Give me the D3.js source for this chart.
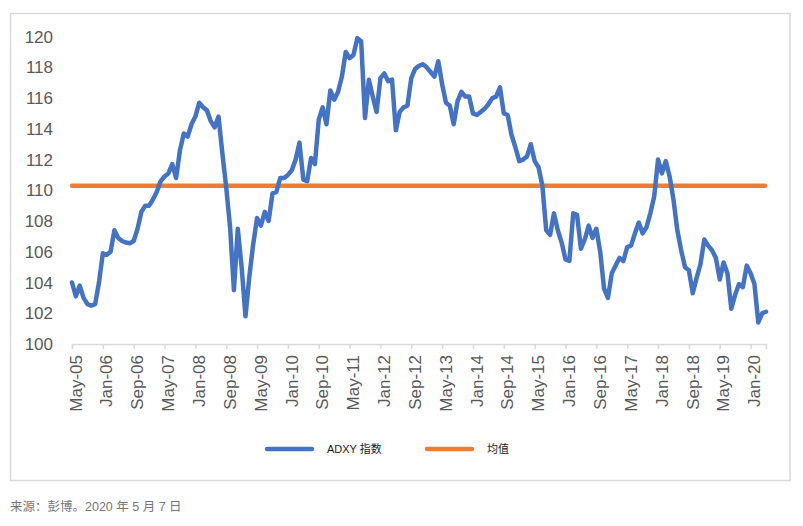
<!DOCTYPE html>
<html>
<head>
<meta charset="utf-8">
<script src="https://cdn.jsdelivr.net/npm/d3@7"></script>
<style>
  html, body { margin: 0; padding: 0; background: #fff; }
  svg { display: block; }
</style>
</head>
<body>
<svg id="chart" width="803" height="526"></svg>
<script>
// ---- data (monthly, May-05 .. May-20) ----
const adxyValues = [
  104.0, 103.1, 103.8, 103.0, 102.6, 102.5, 102.6, 104.0, 105.9, 105.8,
  106.0, 107.4, 106.9, 106.7, 106.6, 106.55, 106.7, 107.5, 108.6, 109.0,
  109.0, 109.4, 109.9, 110.6, 110.9, 111.1, 111.7, 110.8, 112.6, 113.7,
  113.5, 114.3, 114.8, 115.7, 115.4, 115.2, 114.5, 114.1, 114.8, 112.4,
  110.2, 107.6, 103.5, 107.5, 105.0, 101.8, 104.4, 106.5, 108.2, 107.7,
  108.6, 108.0, 109.8, 109.9, 110.8, 110.8, 111.0, 111.3, 112.0, 113.1,
  110.7, 110.6, 112.1, 111.7, 114.6, 115.4, 114.3, 116.5, 115.9, 116.4,
  117.4, 119.0, 118.6, 118.8, 119.9, 119.7, 114.7, 117.2, 116.1, 115.1,
  117.3, 117.6, 117.1, 117.2, 113.9, 115.1, 115.4, 115.5, 117.3, 117.9,
  118.1, 118.2, 118.0, 117.7, 117.4, 118.4, 116.9, 115.7, 115.5, 114.3,
  115.8, 116.4, 116.1, 116.1, 115.0, 114.9, 115.1, 115.3, 115.6, 116.0,
  116.1, 116.7, 115.0, 114.9, 113.6, 112.8, 111.9, 112.0, 112.2, 113.0,
  111.9, 111.5, 110.3, 107.4, 107.1, 108.5, 107.4, 106.6, 105.5, 105.4,
  108.5, 108.4, 106.2, 106.8, 107.7, 106.9, 107.5, 106.0, 103.6, 103.0,
  104.6, 105.1, 105.6, 105.4, 106.3, 106.4, 107.2, 107.9, 107.2, 107.6,
  108.5, 109.6, 112.0, 111.1, 111.9, 110.9, 109.4, 107.4, 106.1, 105.0,
  104.8, 103.3, 104.3, 105.2, 106.8, 106.4, 106.1, 105.6, 104.2, 105.3,
  104.6, 102.3, 103.2, 103.9, 103.7, 105.1, 104.6, 103.9, 101.4, 102.0,
  102.1
];
const meanValue = 110.3;
const xTickLabels = [
  "May-05","Jan-06","Sep-06","May-07","Jan-08","Sep-08","May-09","Jan-10",
  "Sep-10","May-11","Jan-12","Sep-12","May-13","Jan-14","Sep-14","May-15",
  "Jan-16","Sep-16","May-17","Jan-18","Sep-18","May-19","Jan-20"
];
const xTickStep = 8; // months between labels
const yTicks = [100, 102, 104, 106, 108, 110, 112, 114, 116, 118, 120];
const seriesNames = ["ADXY 指数", "均值"];
const seriesColors = ["#4472C4", "#ED7D31"];
const sourceText = "来源：彭博。2020 年 5 月 7 日";

// ---- drawing ----
const svg = d3.select("#chart");
const latin = "'Liberation Sans', Arial, sans-serif";
const cjk = "'Liberation Sans', 'Noto Sans CJK SC', sans-serif";

// outer frame
svg.append("rect")
  .attr("x", 10.5).attr("y", 13.5)
  .attr("width", 779.5).attr("height", 467)
  .attr("fill", "#fff").attr("stroke", "#d9d9d9").attr("stroke-width", 1.5);

const n = adxyValues.length;
const x = d3.scaleLinear().domain([0, n - 1]).range([72, 766]);
const y = d3.scaleLinear().domain([100, 120]).range([344, 36.6]);

// y tick labels
svg.append("g").selectAll("text")
  .data(yTicks).join("text")
  .attr("x", 53).attr("y", d => y(d))
  .attr("dy", "0.36em")
  .attr("text-anchor", "end")
  .attr("font-family", latin).attr("font-size", 17)
  .attr("fill", "#595959")
  .text(d => d);

// x axis
const tickIdx = xTickLabels.map((_, i) => i * xTickStep);
const xAxis = d3.axisBottom(x)
  .tickValues(tickIdx)
  .tickSize(5)
  .tickFormat((d, i) => xTickLabels[i]);
const gx = svg.append("g").attr("transform", "translate(0,344)").call(xAxis);
gx.select(".domain").attr("stroke", "#d9d9d9").attr("stroke-width", 1.5);
gx.selectAll(".tick line").attr("stroke", "#d9d9d9").attr("stroke-width", 1.5);
gx.selectAll(".tick text")
  .attr("font-family", latin).attr("font-size", 17)
  .attr("fill", "#595959")
  .attr("text-anchor", "end")
  .attr("transform", "rotate(-90)")
  .attr("x", -11).attr("y", 3).attr("dy", "0.36em");

// mean line
svg.append("line")
  .attr("x1", x(0)).attr("x2", x(n - 1) - 1)
  .attr("y1", y(meanValue)).attr("y2", y(meanValue))
  .attr("stroke", seriesColors[1]).attr("stroke-width", 4.5)
  .attr("stroke-linecap", "round");

// ADXY line
const line = d3.line().x((d, i) => x(i)).y(d => y(d));
svg.append("path")
  .datum(adxyValues)
  .attr("d", line)
  .attr("fill", "none")
  .attr("stroke", seriesColors[0]).attr("stroke-width", 4.5)
  .attr("stroke-linejoin", "round").attr("stroke-linecap", "round");

// legend
const legendItems = [
  { name: seriesNames[0], color: seriesColors[0], x1: 267, x2: 312, tx: 327 },
  { name: seriesNames[1], color: seriesColors[1], x1: 427, x2: 472, tx: 487 }
];
const lg = svg.append("g");
legendItems.forEach(it => {
  lg.append("line")
    .attr("x1", it.x1).attr("x2", it.x2).attr("y1", 449).attr("y2", 449)
    .attr("stroke", it.color).attr("stroke-width", 4.5).attr("stroke-linecap", "round");
  lg.append("text")
    .attr("x", it.tx).attr("y", 449).attr("dy", "0.36em")
    .attr("font-family", cjk).attr("font-size", 11)
    .attr("fill", "#1a1a1a")
    .text(it.name);
});

// source note
svg.append("text")
  .attr("x", 10).attr("y", 511)
  .attr("font-family", cjk).attr("font-size", 12.5)
  .attr("fill", "#767676")
  .text(sourceText);
</script>
</body>
</html>
